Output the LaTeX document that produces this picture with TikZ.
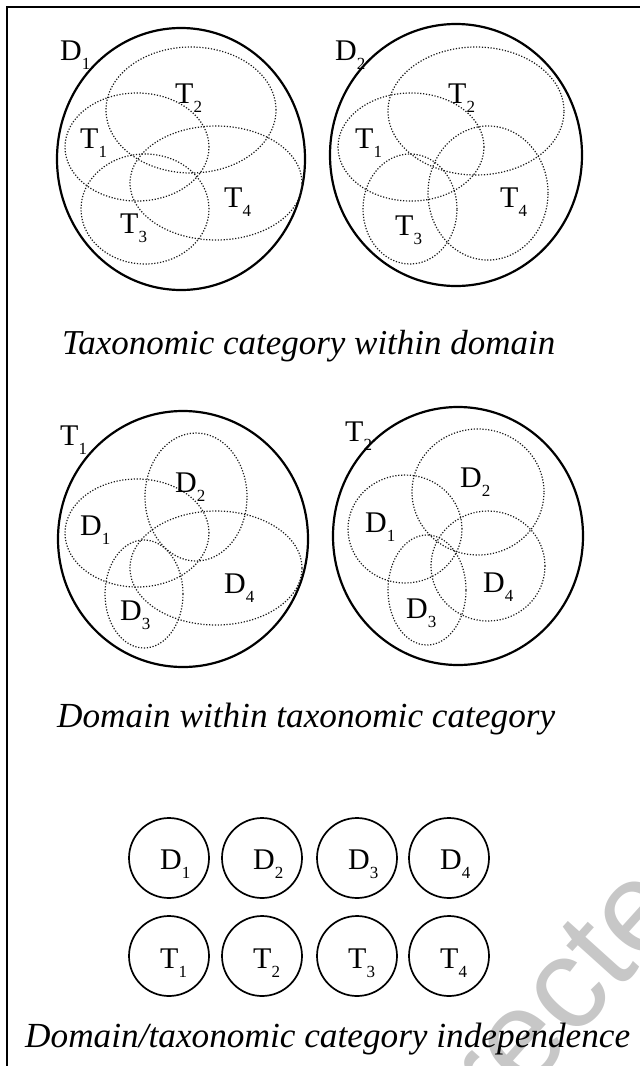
\documentclass[tikz,border=0pt]{standalone}
\usepackage{fontspec}
\setmainfont{Liberation Serif}
\newfontfamily\wmfont{Liberation Sans}
\newcommand{\lab}[2]{#1\raisebox{-0.3em}{\fontsize{17}{17}\selectfont #2}}
\begin{document}
\begin{tikzpicture}[x=1pt,y=-1pt,
  bigc/.style={line width=2.2pt},
  dotc/.style={line width=1.2pt,dash pattern=on 1.2pt off 1.7pt,black!90},
  lbl/.style={anchor=base west,inner sep=0pt,font=\fontsize{30}{30}\selectfont},
  smallc/.style={circle,draw,line width=1.7pt,minimum size=80pt,inner sep=0pt},
  captext/.style={anchor=base west,inner sep=0pt,font=\fontsize{33}{33}\selectfont\itshape},
  framel/.style={line width=2.2pt},
  wm/.style={anchor=base west,inner sep=0pt,text=black!22,font=\wmfont\fontsize{130}{130}\selectfont}]
\useasboundingbox (0,0) rectangle (640,1066);

% watermark
\begin{scope}
\clip (0,0) rectangle (640,1066);
\node[wm,rotate=48] (wmk) at (496,1128) {rected};
\end{scope}

% frame
\draw[framel] (7,1070) -- (7,7) -- (645,7);

% ---- Taxonomic category within domain: D1
\draw[bigc] (181,159) ellipse [x radius=124pt, y radius=131pt];
\draw[dotc] (191,110) ellipse [x radius=85pt, y radius=63pt];
\draw[dotc] (137,147) ellipse [x radius=72pt, y radius=54pt];
\draw[dotc] (216,183) ellipse [x radius=86pt, y radius=57pt];
\draw[dotc] (145,209) ellipse [x radius=64pt, y radius=55pt];
\node[lbl] (aD1) at (60,60) {\lab{D}{1}};
\node[lbl] (aT1) at (80,148) {\lab{T}{1}};
\node[lbl] (aT2) at (175,103) {\lab{T}{2}};
\node[lbl] (aT3) at (120,233) {\lab{T}{3}};
\node[lbl] (aT4) at (224,207) {\lab{T}{4}};

% D2
\draw[bigc] (456,155) ellipse [x radius=126pt, y radius=131pt];
\draw[dotc] (476,111) ellipse [x radius=88pt, y radius=64pt];
\draw[dotc] (411,147) ellipse [x radius=73pt, y radius=54pt];
\draw[dotc] (410,209) ellipse [x radius=47pt, y radius=55pt];
\draw[dotc] (488,193) ellipse [x radius=60pt, y radius=67pt];
\node[lbl] (bD2) at (335,60) {\lab{D}{2}};
\node[lbl] (bT1) at (355,148) {\lab{T}{1}};
\node[lbl] (bT2) at (448,103) {\lab{T}{2}};
\node[lbl] (bT3) at (395,235) {\lab{T}{3}};
\node[lbl] (bT4) at (500,207) {\lab{T}{4}};

\node[captext] (cap1) at (62,354) {\resizebox{493pt}{!}{Taxonomic category within domain}};

% ---- Domain within taxonomic category: T1
\draw[bigc] (183,539) ellipse [x radius=125pt, y radius=128pt];
\draw[dotc] (196,497) ellipse [x radius=51pt, y radius=64pt];
\draw[dotc] (137,533) ellipse [x radius=72pt, y radius=54pt];
\draw[dotc] (216,568) ellipse [x radius=86pt, y radius=57pt];
\draw[dotc] (144,594) ellipse [x radius=39pt, y radius=54pt];
\node[lbl] (cT1) at (60,445) {\lab{T}{1}};
\node[lbl] (cD1) at (80,535) {\lab{D}{1}};
\node[lbl] (cD2) at (175,492) {\lab{D}{2}};
\node[lbl] (cD3) at (120,620) {\lab{D}{3}};
\node[lbl] (cD4) at (224,593) {\lab{D}{4}};

% T2
\draw[bigc] (458,536) ellipse [x radius=125pt, y radius=129pt];
\draw[dotc] (478,492) ellipse [x radius=66pt, y radius=63pt];
\draw[dotc] (405,529) ellipse [x radius=57pt, y radius=54pt];
\draw[dotc] (488,566) ellipse [x radius=57pt, y radius=55pt];
\draw[dotc] (427,590) ellipse [x radius=39pt, y radius=55pt];
\node[lbl] (dT2) at (345,441) {\lab{T}{2}};
\node[lbl] (dD1) at (365,532) {\lab{D}{1}};
\node[lbl] (dD2) at (460,487) {\lab{D}{2}};
\node[lbl] (dD3) at (406,618) {\lab{D}{3}};
\node[lbl] (dD4) at (483,592) {\lab{D}{4}};

\node[captext] (cap2) at (57,727) {\resizebox{498pt}{!}{Domain within taxonomic category}};

% ---- independence
\foreach \i/\x in {1/169,2/262,3/357,4/449}{
  \node[smallc] (sD\i) at (\x,858) {};
  \node[lbl] (lD\i) at ([xshift=-9pt,yshift=-11pt]sD\i.center) {\lab{D}{\i}};
  \node[smallc] (sT\i) at (\x,956) {};
  \node[lbl] (lT\i) at ([xshift=-9pt,yshift=-12pt]sT\i.center) {\lab{T}{\i}};
}

\node[captext] (cap3) at (25,1047) {\resizebox{605pt}{!}{Domain/taxonomic category independence}};
\end{tikzpicture}
\end{document}
